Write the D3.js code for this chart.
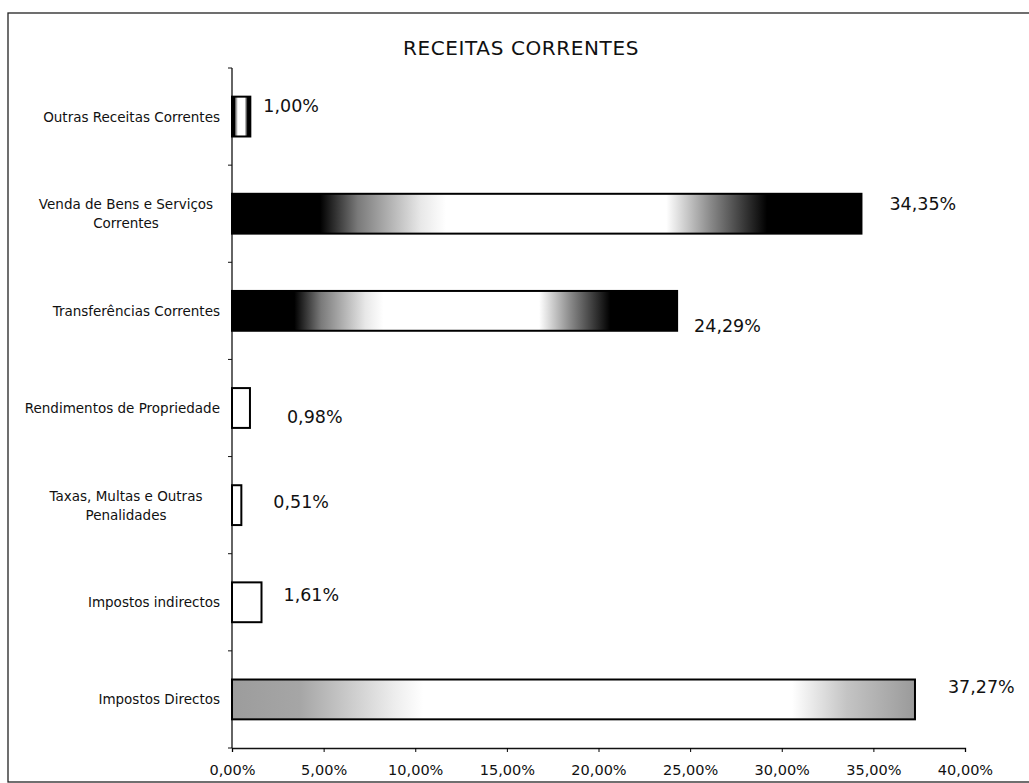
<!DOCTYPE html>
<html>
<head>
<meta charset="utf-8">
<script src="https://cdn.jsdelivr.net/npm/d3@7"></script>
<style>
  body { margin: 0; background: #fff; }
  text { font-family: "DejaVu Sans", sans-serif; fill: #111; }
</style>
</head>
<body>
<div id="chart"></div>
<script>
// data (top to bottom)
var categories = [
    "Outras Receitas Correntes",
    "Venda de Bens e Serviços|Correntes",
    "Transferências Correntes",
    "Rendimentos de Propriedade",
    "Taxas, Multas e Outras|Penalidades",
    "Impostos indirectos",
    "Impostos Directos"
];
var values = [1.00, 34.35, 24.29, 0.98, 0.51, 1.61, 37.27];
var xTicks = [0, 5, 10, 15, 20, 25, 30, 35, 40];

// label nudges (dx from bar end, dy from bar centre) as Excel had them dragged
var labelNudge = [[13, -11], [28, -10], [17, 15], [37, 8], [32, -4], [22, -8], [33, -13]];
// which fill each bar uses
var fillOf = ["url(#dark)", "url(#dark)", "url(#dark)", "#fff", "#fff", "#fff", "url(#grey)"];

var width = 1029;
var height = 783;
var margin = {top: 68, right: 64, bottom: 35, left: 232};

var pt = d3.formatLocale({decimal: ",", thousands: ".", grouping: [3], currency: ["", "€"]});
var fmt = pt.format(".2f");

var svg = d3.select("#chart")
    .append("svg")
    .attr("width", width)
    .attr("height", height);

// gradients
var defs = svg.append("defs");
var dark = defs.append("linearGradient").attr("id", "dark");
[[0, "#000"], [0.14, "#000"], [0.2, "#7a7a7a"], [0.3, "#e8e8e8"], [0.34, "#fff"], [0.69, "#fff"], [0.76, "#8a8a8a"], [0.85, "#000"], [1, "#000"]]
    .forEach(function (s) { dark.append("stop").attr("offset", s[0]).attr("stop-color", s[1]); });
var grey = defs.append("linearGradient").attr("id", "grey");
[[0, "#9c9c9c"], [0.1, "#a6a6a6"], [0.24, "#eeeeee"], [0.28, "#fff"], [0.82, "#fff"], [0.9, "#c4c4c4"], [1, "#9a9a9a"]]
    .forEach(function (s) { grey.append("stop").attr("offset", s[0]).attr("stop-color", s[1]); });

// outer frame
svg.append("rect")
    .attr("x", 8).attr("y", 13)
    .attr("width", 1040).attr("height", 769)
    .attr("fill", "none")
    .attr("stroke", "#222")
    .attr("stroke-width", 1.3);

svg.append("text")
    .attr("x", 521)
    .attr("y", 55)
    .attr("text-anchor", "middle")
    .style("font-size", "20px")
    .style("letter-spacing", "0.6px")
    .text("RECEITAS CORRENTES");

var x = d3.scaleLinear()
    .domain([0, 40])
    .range([margin.left, width - margin.right]);

var y = d3.scaleBand()
    .domain(categories)
    .range([margin.top, height - margin.bottom])
    .paddingInner(0.59)
    .paddingOuter(0.295);

var g = svg.append("g");

// x axis
var xAxis = g.append("g")
    .attr("transform", "translate(0," + (height - margin.bottom) + ")")
    .call(d3.axisBottom(x)
        .tickValues(xTicks)
        .tickSize(4)
        .tickPadding(13)
        .tickFormat(function (d) { return fmt(d) + "%"; }));
xAxis.attr("font-size", null).attr("font-family", null);
xAxis.select(".domain").attr("stroke", "#111").attr("stroke-width", 1.3);
xAxis.selectAll("text").style("font-size", "14.5px");

// y axis: line and ticks at category boundaries
var yAxis = g.append("g");
yAxis.append("line")
    .attr("x1", margin.left).attr("x2", margin.left)
    .attr("y1", margin.top).attr("y2", height - margin.bottom)
    .attr("stroke", "#111").attr("stroke-width", 1.3);
yAxis.selectAll(".tk")
    .data(d3.range(categories.length + 1))
    .enter().append("line")
    .attr("class", "tk")
    .attr("x1", margin.left - 4).attr("x2", margin.left)
    .attr("y1", function (i) { return margin.top + i * y.step(); })
    .attr("y2", function (i) { return margin.top + i * y.step(); })
    .attr("stroke", "#111");

// category labels (may wrap on "|")
yAxis.selectAll(".cat")
    .data(categories)
    .enter().append("text")
    .attr("class", "cat")
    .attr("text-anchor", "middle")
    .style("font-size", "13.5px")
    .each(function (d) {
        var lines = d.split("|");
        var t = d3.select(this);
        var cy = y(d) + y.bandwidth() / 2;
        lines.forEach(function (l, i) {
            t.append("tspan")
                .attr("x", lines.length > 1 ? 126 : margin.left - 12)
                .attr("y", cy + 5 + (i - (lines.length - 1) / 2) * 19)
                .text(l);
        });
        if (lines.length == 1) t.attr("text-anchor", "end");
    });

// bars
g.selectAll(".bar")
    .data(values)
    .enter().append("rect")
    .attr("class", "bar")
    .attr("x", x(0))
    .attr("y", function (d, i) { return y(categories[i]); })
    .attr("width", function (d) { return x(d) - x(0); })
    .attr("height", y.bandwidth())
    .attr("fill", function (d, i) { return fillOf[i]; })
    .attr("stroke", "#000")
    .attr("stroke-width", 2);

// value labels
g.selectAll(".val")
    .data(values)
    .enter().append("text")
    .attr("class", "val")
    .attr("x", function (d, i) { return x(d) + labelNudge[i][0]; })
    .attr("y", function (d, i) { return y(categories[i]) + y.bandwidth() / 2 + labelNudge[i][1] + 6.5; })
    .style("font-size", "17.5px")
    .text(function (d) { return fmt(d) + "%"; });
</script>
</body>
</html>
